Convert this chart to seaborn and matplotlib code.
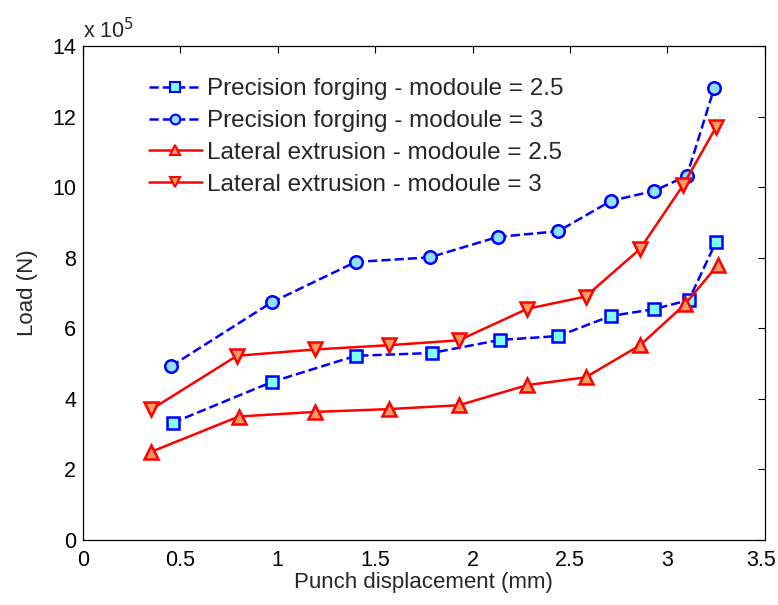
import matplotlib
matplotlib.use("Agg")
import matplotlib.pyplot as plt
import matplotlib.transforms as mtransforms
import seaborn as sns
import numpy as np

sns.set_theme(style="white")
plt.rcParams['font.family'] = ['Liberation Sans', 'DejaVu Sans']

# Load values in units of 1e5 N
pf25_x = [0.46, 0.97, 1.40, 1.79, 2.14, 2.44, 2.71, 2.93, 3.11, 3.25]
pf25_y = [3.32, 4.48, 5.22, 5.30, 5.67, 5.78, 6.35, 6.54, 6.80, 8.45]
pf3_x = [0.45, 0.97, 1.40, 1.78, 2.13, 2.44, 2.71, 2.93, 3.10, 3.24]
pf3_y = [4.92, 6.74, 7.88, 8.01, 8.59, 8.75, 9.61, 9.89, 10.32, 12.80]
le25_x = [0.35, 0.80, 1.19, 1.57, 1.93, 2.28, 2.58, 2.86, 3.09, 3.26]
le25_y = [2.50, 3.50, 3.63, 3.71, 3.82, 4.39, 4.61, 5.52, 6.68, 7.80]
le3_x = [0.35, 0.79, 1.19, 1.57, 1.93, 2.28, 2.58, 2.86, 3.08, 3.25]
le3_y = [3.70, 5.22, 5.40, 5.52, 5.66, 6.55, 6.90, 8.25, 10.05, 11.70]

labels = ["Precision forging - modoule = 2.5",
          "Precision forging - modoule = 3",
          "Lateral extrusion - modoule = 2.5",
          "Lateral extrusion - modoule = 3"]

xticks = [0, 0.5, 1, 1.5, 2, 2.5, 3, 3.5]
xticklabels = ["0", "0.5", "1", "1.5", "2", "2.5", "3", "3.5"]
yticks = [0, 2, 4, 6, 8, 10, 12, 14]

fig = plt.figure(figsize=(7.78, 6.05), dpi=100)
ax = fig.add_axes([0.1067, 0.1074, 0.8763, 0.8166])

series = [
    (pf25_x, pf25_y, "s", "blue", "#80ffff", "--", 8.5),
    (pf3_x, pf3_y, "o", "blue", "#90e0ff", "--", 9),
    (le25_x, le25_y, "^", "red", "#ff9966", "-", 10.5),
    (le3_x, le3_y, "v", "red", "#ff9966", "-", 10.5),
]
for (xs, ys, mk, col, fc, ls, ms), lab in zip(series, labels):
    sns.lineplot(x=xs, y=ys, ax=ax, sort=False, color=col, marker=mk,
                 markerfacecolor=fc, markeredgecolor=col, markeredgewidth=1.8,
                 markersize=ms, linestyle=ls, linewidth=1.8, label=lab)

ax.set_xlim(0, 3.5)
ax.set_ylim(0, 14)
ax.set_xticks(xticks)
ax.set_xticklabels(xticklabels)
ax.set_yticks(yticks)
ax.tick_params(direction="in", length=5, width=0.8, labelsize=15.5, colors="black",
               top=True, right=True)
ax.tick_params(axis="x", pad=7)
ax.tick_params(axis="y", pad=5)
for s in ax.spines.values():
    s.set_color("black")
    s.set_linewidth(0.9)
ax.set_xlabel("Punch displacement (mm)", fontsize=16, labelpad=1)
ax.set_ylabel("Load (N)", fontsize=16, labelpad=10)
ax.text(0.0, 1.006, "x 10$^5$", transform=ax.transAxes, fontsize=15.5,
        ha="left", va="bottom")

# nudge the last x tick label so it stays inside the figure
last = ax.get_xticklabels()[-1]
last.set_transform(last.get_transform() +
                   mtransforms.ScaledTranslation(-4 / 100, 0, fig.dpi_scale_trans))

leg = ax.legend(loc="upper left", bbox_to_anchor=(0.075, 0.964), frameon=False,
                fontsize=17.5, handlelength=2.2, labelspacing=0.4,
                handletextpad=0.2, borderaxespad=0.2)
for h in leg.legend_handles:
    h.set_markersize(7)
    h.set_markeredgewidth(1.5)

fig.savefig("out.png", dpi=100)
